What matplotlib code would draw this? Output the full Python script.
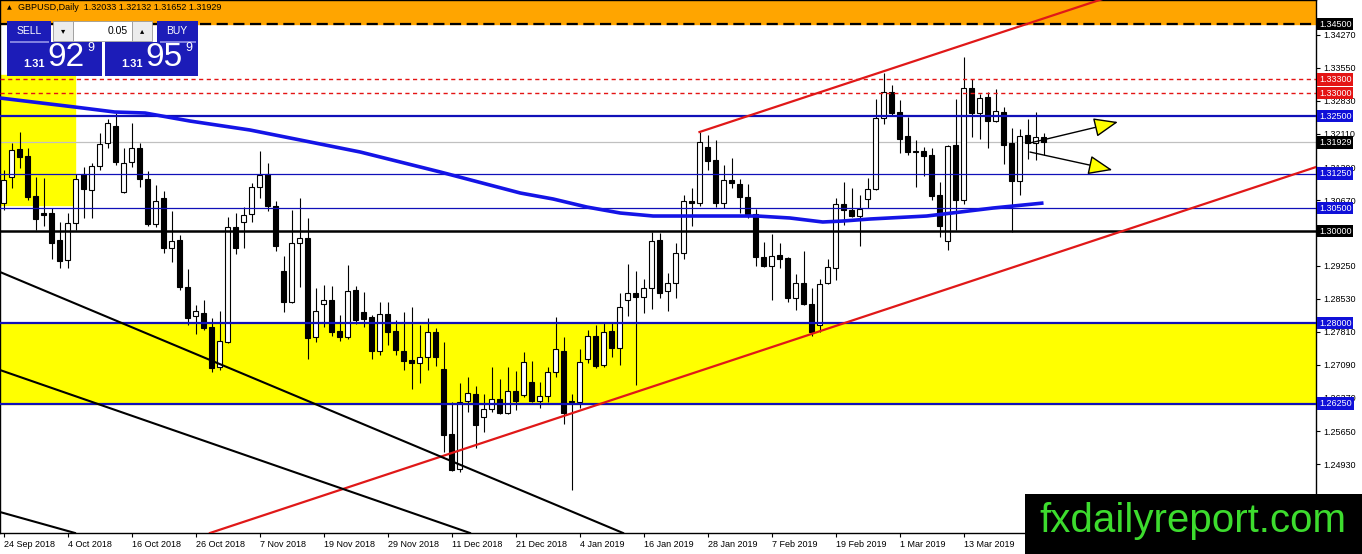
import matplotlib
matplotlib.use("Agg")
import matplotlib.pyplot as plt
import matplotlib.transforms as mtransforms
from matplotlib.patches import Rectangle
import numpy as np

plt.rcParams['font.family'] = ['Liberation Sans', 'DejaVu Sans']

# daily GBPUSD bars, first bar = 24 Sep 2018
opens = [1.3061, 1.3118, 1.3178, 1.3163, 1.3076, 1.3039, 1.3039, 1.2980, 1.2937, 1.3017,
         1.3124, 1.3089, 1.3141, 1.3191, 1.3228, 1.3085, 1.3150, 1.3180, 1.3113, 1.3015,
         1.3072, 1.2963, 1.2980, 1.2878, 1.2815, 1.2822, 1.2791, 1.2704, 1.2759, 1.3009,
         1.3020, 1.3037, 1.3096, 1.3124, 1.3054, 1.2913, 1.2846, 1.2974, 1.2985, 1.2770,
         1.2841, 1.2850, 1.2783, 1.2770, 1.2872, 1.2824, 1.2813, 1.2739, 1.2820, 1.2783,
         1.2739, 1.2720, 1.2713, 1.2726, 1.2780, 1.2700, 1.2559, 1.2483, 1.2630, 1.2646,
         1.2596, 1.2613, 1.2635, 1.2604, 1.2652, 1.2643, 1.2672, 1.2630, 1.2641, 1.2693,
         1.2739, 1.2630, 1.2628, 1.2722, 1.2772, 1.2709, 1.2783, 1.2746, 1.2850, 1.2865,
         1.2857, 1.2876, 1.2980, 1.2870, 1.2887, 1.2952, 1.3065, 1.3061, 1.3183, 1.3154,
         1.3061, 1.3111, 1.3102, 1.3074, 1.3037, 1.2943, 1.2924, 1.2948, 1.2941, 1.2854,
         1.2887, 1.2841, 1.2796, 1.2887, 1.2920, 1.3059, 1.3046, 1.3033, 1.3070, 1.3091,
         1.3246, 1.3302, 1.3259, 1.3206, 1.3172, 1.3174, 1.3165, 1.3078, 1.2978, 1.3187,
         1.3067, 1.3311, 1.3256, 1.3291, 1.3239, 1.3259, 1.3191, 1.3109, 1.3209, 1.3191,
         1.32033]
highs = [1.3133, 1.3191, 1.3215, 1.3180, 1.3118, 1.3115, 1.3050, 1.3020, 1.3039, 1.3124,
         1.3139, 1.3148, 1.3213, 1.3243, 1.3256, 1.3180, 1.3235, 1.3191, 1.3130, 1.3100,
         1.3087, 1.3043, 1.2991, 1.2917, 1.2839, 1.2850, 1.2811, 1.2826, 1.3030, 1.3039,
         1.3052, 1.3104, 1.3174, 1.3148, 1.3065, 1.2946, 1.3046, 1.3072, 1.3028, 1.2876,
         1.2883, 1.2881, 1.2817, 1.2926, 1.2881, 1.2867, 1.2817, 1.2846, 1.2846, 1.2807,
         1.2824, 1.2835, 1.2796, 1.2811, 1.2789, 1.2759, 1.2628, 1.2669, 1.2683, 1.2663,
         1.2646, 1.2704, 1.2678, 1.2704, 1.2696, 1.2737, 1.2717, 1.2672, 1.2704, 1.2813,
         1.2770, 1.2646, 1.2743, 1.2785, 1.2796, 1.2800, 1.2800, 1.2865, 1.2928, 1.2913,
         1.2896, 1.2998, 1.2996, 1.2909, 1.2974, 1.3078, 1.3094, 1.3215, 1.3209, 1.3198,
         1.3143, 1.3159, 1.3113, 1.3102, 1.3048, 1.2976, 1.2993, 1.2974, 1.2943, 1.2907,
         1.2956, 1.2876, 1.2896, 1.2939, 1.3072, 1.3107, 1.3094, 1.3078, 1.3115, 1.3287,
         1.3343, 1.3317, 1.3285, 1.3248, 1.3198, 1.3183, 1.3180, 1.3107, 1.3187, 1.3287,
         1.3378, 1.3330, 1.3298, 1.3302, 1.3309, 1.3270, 1.3224, 1.3222, 1.3243, 1.3259,
         1.32132]
lows = [1.3046, 1.3094, 1.3137, 1.3067, 1.3002, 1.3011, 1.2939, 1.2920, 1.2920, 1.3002,
        1.3028, 1.3028, 1.3133, 1.3180, 1.3143, 1.3083, 1.3139, 1.3096, 1.3011, 1.3009,
        1.2952, 1.2933, 1.2872, 1.2796, 1.2776, 1.2785, 1.2693, 1.2698, 1.2757, 1.2950,
        1.2963, 1.3020, 1.3072, 1.3043, 1.2956, 1.2824, 1.2844, 1.2878, 1.2722, 1.2759,
        1.2791, 1.2772, 1.2761, 1.2765, 1.2798, 1.2791, 1.2722, 1.2730, 1.2752, 1.2730,
        1.2698, 1.2656, 1.2669, 1.2698, 1.2706, 1.2520, 1.2478, 1.2476, 1.2607, 1.2528,
        1.2563, 1.2607, 1.2602, 1.2602, 1.2611, 1.2639, 1.2628, 1.2615, 1.2628, 1.2683,
        1.2580, 1.2437, 1.2615, 1.2713, 1.2702, 1.2704, 1.2726, 1.2709, 1.2815, 1.2665,
        1.2822, 1.2830, 1.2854, 1.2826, 1.2854, 1.2939, 1.3011, 1.3054, 1.3133, 1.3052,
        1.3050, 1.3094, 1.3039, 1.3028, 1.2924, 1.2922, 1.2850, 1.2920, 1.2846, 1.2828,
        1.2839, 1.2772, 1.2780, 1.2885, 1.2894, 1.3013, 1.3030, 1.2967, 1.3050, 1.3089,
        1.3232, 1.3252, 1.3169, 1.3165, 1.3096, 1.3120, 1.3067, 1.2987, 1.2959, 1.3002,
        1.3059, 1.3204, 1.3200, 1.3180, 1.3237, 1.3146, 1.2998, 1.3078, 1.3156, 1.3154,
        1.31652]
closes = [1.3111, 1.3176, 1.3161, 1.3074, 1.3026, 1.3035, 1.2974, 1.2935, 1.3017, 1.3113,
          1.3091, 1.3141, 1.3189, 1.3235, 1.3150, 1.3148, 1.3180, 1.3113, 1.3015, 1.3065,
          1.2963, 1.2978, 1.2878, 1.2811, 1.2826, 1.2789, 1.2702, 1.2761, 1.3009, 1.2963,
          1.3035, 1.3096, 1.3122, 1.3054, 1.2967, 1.2846, 1.2974, 1.2985, 1.2767, 1.2826,
          1.2850, 1.2780, 1.2770, 1.2870, 1.2807, 1.2809, 1.2739, 1.2820, 1.2780, 1.2741,
          1.2717, 1.2713, 1.2726, 1.2780, 1.2726, 1.2557, 1.2480, 1.2628, 1.2648, 1.2578,
          1.2613, 1.2635, 1.2604, 1.2652, 1.2630, 1.2715, 1.2630, 1.2641, 1.2693, 1.2743,
          1.2604, 1.2628, 1.2715, 1.2772, 1.2706, 1.2780, 1.2746, 1.2835, 1.2865, 1.2857,
          1.2876, 1.2978, 1.2865, 1.2887, 1.2952, 1.3065, 1.3061, 1.3193, 1.3152, 1.3061,
          1.3111, 1.3104, 1.3074, 1.3037, 1.2943, 1.2924, 1.2946, 1.2939, 1.2854, 1.2887,
          1.2841, 1.2780, 1.2885, 1.2922, 1.3059, 1.3046, 1.3033, 1.3048, 1.3091, 1.3246,
          1.3302, 1.3256, 1.3200, 1.3172, 1.3174, 1.3163, 1.3076, 1.3011, 1.3185, 1.3067,
          1.3311, 1.3256, 1.3289, 1.3239, 1.3261, 1.3187, 1.3109, 1.3206, 1.3191, 1.3204,
          1.31929]

date_ticks = [0, 8, 16, 24, 32, 40, 48, 56, 64, 72, 80, 88, 96, 104, 112, 120]
date_labels = ["24 Sep 2018", "4 Oct 2018", "16 Oct 2018", "26 Oct 2018", "7 Nov 2018",
               "19 Nov 2018", "29 Nov 2018", "11 Dec 2018", "21 Dec 2018", "4 Jan 2019",
               "16 Jan 2019", "28 Jan 2019", "7 Feb 2019", "19 Feb 2019", "1 Mar 2019",
               "13 Mar 2019"]
price_ticks = [1.34270, 1.33550, 1.32830, 1.32110, 1.31390, 1.30670, 1.29970, 1.29250,
               1.28530, 1.27810, 1.27090, 1.26370, 1.25650, 1.24930, 1.24210]
hidden_ticks = [1.29970]  # label sits under the 1.30000 tag

# moving average (bar index, price)
ma_bars = [-0.44, 8.9, 13.9, 17.7, 23.3, 30.8, 37.1, 44.6, 54.6, 64.6, 68.7, 72.9,
           77.1, 81.2, 87.1, 94.2, 98.3, 102.4, 104.9, 108.3, 115.4, 119.6, 123.7, 130]
ma_values = [1.32891, 1.32696, 1.32587, 1.32565, 1.32391, 1.32196, 1.31978, 1.31717,
             1.31283, 1.30826, 1.30696, 1.30522, 1.30391, 1.30326, 1.30326, 1.30326,
             1.30283, 1.30196, 1.30217, 1.30261, 1.30326, 1.30413, 1.30500, 1.30609]

# horizontal levels
top_level = 1.34500
red_levels = [1.33300, 1.33000]
thick_blue_levels = [1.32500, 1.28000, 1.26250]
thin_blue_levels = [1.31250, 1.30500]
round_level = 1.30000
bid = closes[-1]
zone = (1.26250, 1.28000)
box_bars = (-1.0, 8.94)
box_prices = (1.30565, 1.33391)

# trend lines: two anchor points each (bar, price)
red_upper = [(87, 1.32152), (118.06, 1.33935)]
red_lower = [(25.81, 1.23435), (164.06, 1.31391)]
black_lines = [[(-0.44, 1.29109), (77.44, 1.23435)],
               [(-0.44, 1.26978), (58.31, 1.23435)],
               [(-0.44, 1.23891), (8.94, 1.23435)]]

arrow_tails = [(128.3, 1.31913), (128.3, 1.31717)]
arrow_heads = [(139.3, 1.32370), (138.6, 1.31326)]

tag_prices = [1.34500, 1.33300, 1.33000, 1.32500, bid, 1.31250, 1.30500, 1.30000, 1.28000, 1.26250]
tag_colors = ['black', '#e41414', '#e41414', '#1010d8', 'black', '#1010d8', '#1010d8',
              'black', '#1010d8', '#1010d8']

W, H = 1362, 554
fig = plt.figure(figsize=(W / 100, H / 100), dpi=100)
ax = fig.add_axes([0, 21 / H, 1316 / W, 533 / H])
ax.set_xlim(-0.4375, 164.06)
ax.set_ylim(1.23435, 1.35022)

# zones
ax.axhspan(zone[0], zone[1], color='#ffff00', zorder=0)
ax.axhspan(top_level, 1.40, color='#ffa500', zorder=0)
ax.add_patch(Rectangle((box_bars[0], box_prices[0]), box_bars[1] - box_bars[0],
                       box_prices[1] - box_prices[0], color='#ffff00', zorder=0))

# candles
x = np.arange(len(opens))
o = np.array(opens); h = np.array(highs); l = np.array(lows); c = np.array(closes)
up = c >= o
ax.vlines(x, l, h, color='black', lw=0.8, zorder=3)
ax.bar(x[up], (c - o)[up], bottom=o[up], width=0.62, color='white',
       edgecolor='black', lw=0.8, zorder=3)
ax.bar(x[~up], (o - c)[~up], bottom=c[~up], width=0.62, color='black',
       edgecolor='black', lw=0.8, zorder=3)

# level lines
ax.axhline(top_level, color='black', lw=1.6, ls=(0, (5, 2.5)), zorder=4)
for p in red_levels:
    ax.axhline(p, color='#e41414', lw=1.0, ls=(0, (3, 2.5)), zorder=4)
for p in thick_blue_levels:
    ax.axhline(p, color='#1010b8', lw=1.6, zorder=4)
for p in thin_blue_levels:
    ax.axhline(p, color='#1010b8', lw=0.9, zorder=4)
ax.axhline(round_level, color='black', lw=1.8, zorder=4)
ax.axhline(bid, color='#c0c0c0', lw=0.9, zorder=2)

# trend lines, extended to the right edge
def extend(line, x_end):
    (x0, y0), (x1, y1) = line
    k = (y1 - y0) / (x1 - x0)
    return [x0, x_end], [y0, y0 + k * (x_end - x0)]

xs, ys = extend(red_upper, 170)
ax.plot(xs, ys, color='#e01818', lw=1.6, zorder=4)
xs, ys = extend(red_lower, 170)
ax.plot(xs, ys, color='#e01818', lw=1.6, zorder=4)
for line in black_lines:
    xs, ys = extend(line, line[1][0])
    ax.plot(xs, ys, color='black', lw=1.5, zorder=4)

ax.plot(ma_bars, ma_values, color='#1414e6', lw=2.6, zorder=5, solid_capstyle='butt')

for tail, head in zip(arrow_tails, arrow_heads):
    ax.annotate('', xy=head, xytext=tail, annotation_clip=False, zorder=6,
                arrowprops=dict(arrowstyle='-|>,head_length=0.75,head_width=0.3',
                                fc='#ffff00', ec='black', lw=1, mutation_scale=20,
                                shrinkA=0, shrinkB=0))

# axes
ax.yaxis.tick_right()
ax.set_yticks(price_ticks)
ax.set_yticklabels(["" if p in hidden_ticks else f"{p:.5f}" for p in price_ticks])
ax.set_xticks(date_ticks)
ax.set_xticklabels(date_labels)
for lbl in ax.get_xticklabels():
    lbl.set_ha('left')
ax.tick_params(axis='both', direction='out', length=3, width=0.8, labelsize=6.5, pad=2,
               colors='black')
for s in ax.spines.values():
    s.set_color('black')
    s.set_linewidth(1)

trans = mtransforms.blended_transform_factory(ax.transAxes, ax.transData)
for p, col in zip(tag_prices, tag_colors):
    ax.text(1.0022, p, f"{p:.5f}", transform=trans, ha='left', va='center', fontsize=6.5,
            color='white', clip_on=False, zorder=7,
            bbox=dict(boxstyle='square,pad=0.22', fc=col, ec='none'))

# header and trade panel (figure pixels)
def box(x0, y0, x1, y1, **kw):
    fig.patches.append(Rectangle((x0 / W, 1 - y1 / H), (x1 - x0) / W, (y1 - y0) / H,
                                 transform=fig.transFigure, **kw))

def label(px, py, s, **kw):
    fig.text(px / W, 1 - py / H, s, **kw)

label(7, 8, '▲', fontsize=4.5, va='center', family=['DejaVu Sans'])
label(18, 8, f"GBPUSD,Daily  {opens[-1]:.5f} {highs[-1]:.5f} {lows[-1]:.5f} {closes[-1]:.5f}",
      fontsize=6.5, va='center')

blue = '#1c1cb8'
box(7, 21, 51, 42, fc=blue, ec='none')
box(157, 21, 198, 42, fc=blue, ec='none')
box(7, 42, 102, 76, fc=blue, ec='none')
box(105, 42, 198, 76, fc=blue, ec='none')
box(53, 21, 73, 41, fc='#ececec', ec='#9a9a9a', lw=0.6)
box(73, 21, 132, 41, fc='white', ec='#9a9a9a', lw=0.6)
box(132, 21, 152, 41, fc='#ececec', ec='#9a9a9a', lw=0.6)
box(10, 41.5, 49, 42.5, fc='#8080e0', ec='none')
box(160, 41.5, 196, 42.5, fc='#8080e0', ec='none')
label(29, 31, 'SELL', color='white', fontsize=7.5, ha='center', va='center')
label(177, 31, 'BUY', color='white', fontsize=7.5, ha='center', va='center')
label(63, 31, '▾', fontsize=6, ha='center', va='center', family=['DejaVu Sans'])
label(142, 31, '▴', fontsize=6, ha='center', va='center', family=['DejaVu Sans'])
label(128, 31, '0.05', fontsize=7.5, ha='right', va='center')
for x0, big in [(7, '92'), (105, '95')]:
    label(x0 + 27, 64, '1.31', color='white', fontsize=8, weight='bold', ha='center', va='center')
    label(x0 + 59, 58, big, color='white', fontsize=24, ha='center', va='center')
    label(x0 + 84, 48, '9', color='white', fontsize=9, ha='center', va='center')

# watermark
box(1025, 494, W, H, fc='black', ec='none', zorder=10)
fig.text(1193 / W, 1 - 521 / H, 'fxdailyreport.com', color='#3ddc2e', fontsize=29,
         ha='center', va='center', zorder=11)

fig.savefig('out.png', dpi=100, facecolor='white')
